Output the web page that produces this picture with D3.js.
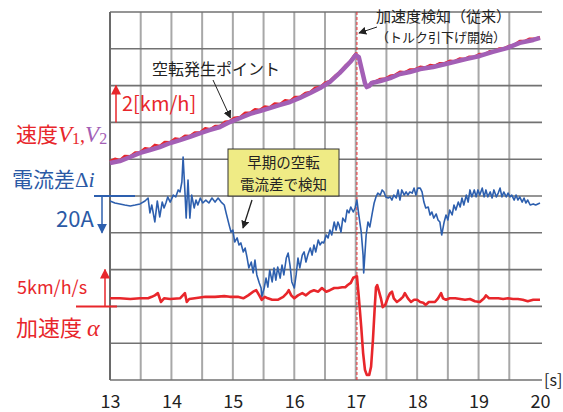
<!DOCTYPE html>
<html>
<head>
<meta charset="utf-8">
<script src="https://cdn.jsdelivr.net/npm/d3@7"></script>
<style>
  html, body { margin: 0; padding: 0; background: #fff; }
  svg { display: block; }
  text { font-family: "Noto Sans CJK JP", "Noto Sans", sans-serif; }
</style>
</head>
<body>
<svg id="chart" width="563" height="412"></svg>
<script>
// ---- time axis ----
const xTicks = [13, 14, 15, 16, 17, 18, 19, 20];

// ---- wheel speeds V1 (red) and V2 (purple), km/h ----
const timeV2  = [13.00,13.16,13.33,13.49,13.65,13.81,13.98,14.14,14.30,14.47,14.63,14.79,14.95,15.12,15.28,15.44,15.60,15.77,15.93,16.09,16.26,16.42,16.58,16.74,16.91,17.00,17.05,17.10,17.15,17.18,17.22,17.26,17.40,17.56,17.72,17.88,18.05,18.26,18.53,18.81,19.02,19.23,19.46,19.67,19.89,20.00];
const speedV2 = [11.79,11.90,12.12,12.34,12.50,12.66,12.88,13.04,13.21,13.42,13.59,13.75,14.02,14.24,14.46,14.62,14.78,14.95,15.11,15.33,15.60,15.87,16.20,16.69,17.28,17.66,17.55,16.85,16.14,15.92,15.98,16.14,16.25,16.41,16.63,16.74,16.90,17.01,17.23,17.45,17.61,17.83,18.04,18.32,18.48,18.59];

const timeV1  = [13.00,13.08,13.16,13.24,13.33,13.41,13.49,13.57,13.65,13.73,13.81,13.89,13.98,14.06,14.14,14.22,14.30,14.38,14.47,14.55,14.63,14.71,14.79,14.87,14.95,15.03,15.12,15.20,15.28,15.36,15.44,15.52,15.60,15.68,15.77,15.85,15.93,16.01,16.09,16.18,16.26,16.34,16.42,16.50,16.58,16.66,16.74,16.83,16.91,16.97,17.00,17.03,17.06,17.10,17.15,17.18,17.22,17.26,17.33,17.40,17.48,17.56,17.64,17.72,17.80,17.88,17.96,18.05,18.13,18.21,18.29,18.37,18.45,18.53,18.61,18.69,18.77,18.85,18.93,19.02,19.10,19.18,19.26,19.34,19.42,19.50,19.58,19.67,19.75,19.83,19.91,20.00];
const speedV1 = [11.90,12.02,11.95,12.18,12.16,12.36,12.38,12.60,12.55,12.78,12.72,12.93,12.92,13.13,13.08,13.28,13.26,13.45,13.46,13.68,13.63,13.80,13.80,14.03,14.07,14.26,14.30,14.53,14.52,14.72,14.68,14.86,14.83,15.03,15.00,15.20,15.16,15.38,15.38,15.60,15.65,15.88,15.92,16.16,16.25,16.52,16.73,17.08,17.32,17.62,17.74,17.62,17.45,16.90,16.18,15.96,16.04,16.18,16.24,16.36,16.38,16.53,16.58,16.75,16.72,16.87,16.88,17.02,16.98,17.12,17.08,17.22,17.22,17.35,17.33,17.47,17.44,17.57,17.56,17.72,17.70,17.87,17.88,18.02,18.03,18.16,18.22,18.42,18.42,18.55,18.54,18.63];

// ---- motor current difference Δi, A (positive downward) ----
const timeI = [13.00,13.08,13.16,13.24,13.33,13.41,13.49,13.57,13.62,13.65,13.68,13.73,13.77,13.81,13.85,13.88,13.91,13.94,13.98,14.03,14.07,14.11,14.14,14.17,14.19,14.22,14.24,14.27,14.30,14.33,14.37,14.40,14.43,14.47,14.51,14.56,14.61,14.66,14.71,14.76,14.81,14.86,14.89,14.94,14.97,15.00,15.03,15.07,15.10,15.13,15.17,15.20,15.23,15.26,15.30,15.33,15.36,15.39,15.43,15.46,15.47,15.51,15.54,15.57,15.60,15.64,15.67,15.70,15.73,15.77,15.80,15.83,15.87,15.90,15.93,15.96,16.00,16.03,16.06,16.09,16.13,16.16,16.19,16.22,16.26,16.29,16.32,16.35,16.39,16.42,16.45,16.48,16.52,16.55,16.58,16.61,16.65,16.68,16.71,16.73,16.76,16.79,16.83,16.86,16.89,16.92,16.96,16.99,17.02,17.05,17.09,17.12,17.13,17.17,17.20,17.23,17.27,17.30,17.33,17.36,17.40,17.43,17.46,17.49,17.53,17.56,17.59,17.62,17.66,17.69,17.72,17.75,17.79,17.82,17.85,17.88,17.92,17.95,17.98,18.01,18.05,18.08,18.11,18.14,18.18,18.21,18.24,18.27,18.31,18.34,18.37,18.40,18.44,18.47,18.50,18.53,18.57,18.60,18.63,18.67,18.70,18.73,18.76,18.80,18.83,18.86,18.89,18.93,18.96,18.99,19.02,19.06,19.09,19.12,19.15,19.19,19.22,19.25,19.29,19.32,19.35,19.38,19.41,19.45,19.48,19.51,19.54,19.58,19.61,19.64,19.67,19.71,19.74,19.77,19.80,19.84,19.89,19.93,20.00];
const deltaI = [2.7,3.8,4.3,4.9,5.4,4.9,4.3,2.7,1.1,9.2,4.9,14.1,2.7,11.4,3.3,6.5,3.8,0.5,3.3,-0.5,0.5,-3.3,-2.2,-7.6,-21.2,-2.2,12.0,-8.7,12.0,-0.5,6.5,2.2,4.9,1.1,3.8,2.2,3.8,1.1,3.3,1.1,3.3,4.9,9.2,15.8,19.6,18.5,25.0,22.8,26.6,25.5,30.4,28.3,33.2,39.1,35.9,41.8,34.8,42.9,47.3,50.0,54.9,50.0,44.6,49.5,40.2,46.7,39.1,45.7,38.6,44.6,37.5,42.9,33.7,31.0,37.5,46.7,50.0,42.9,33.7,39.1,32.1,30.4,35.9,32.1,28.3,32.1,26.6,30.4,23.9,26.6,25.0,25.5,21.2,22.8,18.5,21.2,14.1,18.5,14.1,15.8,19.6,12.0,14.1,7.6,9.2,6.0,8.7,6.5,2.2,10.3,19.6,32.1,41.8,21.2,14.1,16.8,9.2,3.8,0.5,-1.6,-0.5,-3.3,-2.2,0.5,1.1,0.5,2.2,-0.5,1.1,-3.3,2.2,-3.3,-0.5,-2.2,-0.5,-2.2,-1.6,-4.3,-0.5,-4.3,-4.3,-2.2,3.3,6.5,6.0,10.3,8.7,12.0,9.8,13.0,14.1,21.2,14.1,10.3,13.0,7.6,10.3,4.9,7.6,3.3,6.0,1.1,4.9,-0.5,3.3,-3.3,0.5,-3.3,0.5,-3.3,-0.5,-4.3,0.5,-3.3,0.5,-2.2,1.1,-3.3,0.5,-1.6,-4.3,0.5,-2.2,0.5,-1.6,0.5,-0.5,2.2,-0.5,2.2,0.5,3.3,1.1,3.8,2.2,4.9,4.3,4.9,3.8];

// ---- acceleration α, km/h/s ----
const timeA = [13.00,13.16,13.33,13.49,13.62,13.68,13.73,13.78,13.83,13.88,13.98,14.14,14.22,14.25,14.29,14.38,14.55,14.71,14.86,14.95,15.08,15.17,15.25,15.33,15.38,15.43,15.47,15.52,15.57,15.64,15.73,15.82,15.88,15.91,15.95,16.00,16.06,16.13,16.19,16.26,16.32,16.39,16.45,16.52,16.58,16.65,16.71,16.78,16.83,16.87,16.92,16.96,16.99,17.02,17.05,17.09,17.12,17.15,17.18,17.22,17.25,17.28,17.31,17.33,17.35,17.38,17.41,17.44,17.48,17.53,17.56,17.59,17.62,17.67,17.72,17.77,17.80,17.85,17.90,17.95,18.00,18.05,18.10,18.14,18.19,18.24,18.29,18.34,18.39,18.42,18.47,18.53,18.62,18.70,18.78,18.86,18.94,19.02,19.09,19.12,19.17,19.23,19.32,19.40,19.48,19.56,19.64,19.72,19.80,19.89,20.00];
const accel = [1.1,1.1,1.0,1.1,1.1,1.3,1.5,1.8,0.6,1.1,1.0,1.1,1.8,0.6,1.0,1.1,1.3,1.3,1.4,1.3,1.3,1.1,1.5,2.0,2.2,1.5,0.9,1.3,1.1,0.9,0.9,1.3,1.8,2.2,1.5,1.1,1.5,1.8,1.5,2.0,2.2,2.0,2.5,2.0,2.2,2.5,2.5,2.6,2.6,2.9,3.2,3.9,4.0,4.1,1.3,-2.8,-6.3,-8.6,-9.3,-9.3,-8.2,-4.6,-0.1,2.6,2.9,2.0,1.1,-0.1,0.2,1.3,1.8,2.0,1.1,0.6,0.9,1.3,1.8,1.1,0.6,0.9,0.9,0.6,0.5,0.2,0.6,0.6,0.6,1.1,1.8,1.1,0.9,1.1,1.1,1.0,0.9,1.0,0.7,0.6,1.1,1.5,1.1,1.1,1.1,1.0,1.1,1.0,1.0,0.9,0.7,0.9,0.9];

// ---- colours ----
const RED = "#e8262b", PURPLE = "#a35fb5", BLUE = "#2d5fae", LABEL_BLUE = "#2b5aa5";

const svg = d3.select("#chart");
const plotLeft = 110, plotRight = 540, plotTop = 12, plotBottom = 380;

const x = d3.scaleLinear().domain([13, 20]).range([plotLeft, plotRight]);
// ten grid divisions up the plot
const grid = d3.scaleLinear().domain([0, 10]).range([plotBottom, plotTop]);
// each trace on its own scale: 2 km/h, 20 A and 5 km/h/s per division
const ySpeed = d3.scaleLinear().domain([0, 20]).range([grid(0), grid(10)]);
const yCurrent = d3.scaleLinear().domain([0, 20]).range([grid(5), grid(4)]);
const yAccel = d3.scaleLinear().domain([0, 5]).range([grid(2), grid(3)]);

// arrowhead markers
const defs = svg.append("defs");
function marker(id, color, size) {
  defs.append("marker").attr("id", id)
    .attr("viewBox", "0 0 10 10").attr("refX", 9).attr("refY", 5)
    .attr("markerWidth", size).attr("markerHeight", size)
    .attr("markerUnits", "userSpaceOnUse").attr("orient", "auto")
    .append("path").attr("d", "M0,0 L10,5 L0,10 Z").attr("fill", color);
}
marker("ahRed", RED, 10);
marker("ahBlue", BLUE, 10);
marker("ahBlack", "#222", 8);

// ---- grid ----
const gGrid = svg.append("g");
const halfSteps = d3.range(13.5, 20, 0.5);
gGrid.selectAll("line.v").data(halfSteps).join("line").attr("class", "v")
  .attr("x1", d => x(d)).attr("x2", d => x(d))
  .attr("y1", plotTop).attr("y2", plotBottom)
  .attr("stroke", "#a8a8a8").attr("stroke-width", 2);
gGrid.selectAll("line.h").data(d3.range(0, 11)).join("line").attr("class", "h")
  .attr("x1", plotLeft).attr("x2", plotRight + 2)
  .attr("y1", d => grid(d)).attr("y2", d => grid(d))
  .attr("stroke", "#727272").attr("stroke-width", 1.6);
gGrid.append("line").attr("x1", plotLeft).attr("x2", plotLeft).attr("y1", plotTop).attr("y2", plotBottom)
  .attr("stroke", "#6a6a6a").attr("stroke-width", 2);

// ---- time axis labels ----
const xAxis = d3.axisBottom(x).tickValues(xTicks).tickSize(0).tickPadding(15).tickFormat(d3.format("d"));
const gx = svg.append("g").attr("transform", `translate(0,${plotBottom})`).call(xAxis);
gx.select(".domain").remove();
gx.selectAll("text").attr("font-size", 18).attr("fill", "#222")
  .attr("font-family", "'Noto Sans CJK JP', sans-serif");
svg.append("text").attr("x", 544).attr("y", 386).attr("font-size", 16).attr("fill", "#222").text("[s]");

// ---- detection marker (dashed) ----
svg.append("line").attr("x1", x(17.02)).attr("x2", x(17.02)).attr("y1", plotTop).attr("y2", plotBottom)
  .attr("stroke", RED).attr("stroke-width", 1).attr("stroke-dasharray", "3,2");

// ---- traces ----
const zip = (t, v) => t.map((d, i) => [d, v[i]]);
const line = yScale => d3.line().x(d => x(d[0])).y(d => yScale(d[1]));

svg.append("path").datum(zip(timeV1, speedV1)).attr("d", line(ySpeed))
  .attr("fill", "none").attr("stroke", RED).attr("stroke-width", 2.5).attr("stroke-linejoin", "round");
svg.append("path").datum(zip(timeV2, speedV2)).attr("d", line(ySpeed))
  .attr("fill", "none").attr("stroke", PURPLE).attr("stroke-width", 4.5).attr("stroke-linejoin", "round");

svg.append("path").datum(zip(timeI, deltaI)).attr("d", line(yCurrent))
  .attr("fill", "none").attr("stroke", BLUE).attr("stroke-width", 1.6).attr("stroke-linejoin", "round");

svg.append("path").datum(zip(timeA, accel)).attr("d", line(yAccel))
  .attr("fill", "none").attr("stroke", RED).attr("stroke-width", 2.6).attr("stroke-linejoin", "round");

// ---- left-hand scale indicators ----
// speed: 2 km/h per division
svg.append("line").attr("x1", 116).attr("x2", 116).attr("y1", grid(7)).attr("y2", grid(8))
  .attr("stroke", RED).attr("stroke-width", 1.5).attr("marker-end", "url(#ahRed)");
svg.append("text").attr("x", 122).attr("y", 111).attr("font-size", 20).attr("fill", RED).text("2[km/h]");

// current difference: 20 A per division, downward
svg.append("line").attr("x1", 94).attr("x2", 135).attr("y1", yCurrent(0)).attr("y2", yCurrent(0))
  .attr("stroke", BLUE).attr("stroke-width", 2);
svg.append("line").attr("x1", 102).attr("x2", 102).attr("y1", yCurrent(0)).attr("y2", yCurrent(20))
  .attr("stroke", BLUE).attr("stroke-width", 1.5).attr("marker-end", "url(#ahBlue)");
svg.append("text").attr("x", 56).attr("y", 227).attr("font-size", 22).attr("fill", LABEL_BLUE).text("20A");

// acceleration: 5 km/h/s per division
svg.append("line").attr("x1", 76).attr("x2", 117).attr("y1", yAccel(0)).attr("y2", yAccel(0))
  .attr("stroke", RED).attr("stroke-width", 2);
svg.append("line").attr("x1", 105).attr("x2", 105).attr("y1", yAccel(0)).attr("y2", yAccel(5))
  .attr("stroke", RED).attr("stroke-width", 1.5).attr("marker-end", "url(#ahRed)");
svg.append("text").attr("x", 17).attr("y", 294).attr("font-size", 18).attr("fill", RED).text("5km/h/s");

// ---- series labels ----
const serif = "'Liberation Serif', serif";
const tV = svg.append("text").attr("x", 16).attr("y", 142).attr("font-size", 21).attr("fill", RED);
tV.append("tspan").text("速度");
tV.append("tspan").attr("font-family", serif).attr("font-style", "italic").attr("font-size", 23).text("V");
tV.append("tspan").attr("font-family", serif).attr("font-size", 16).attr("dy", 2).text("1");
tV.append("tspan").attr("font-family", serif).attr("font-size", 20).attr("dy", -2).text(",");
tV.append("tspan").attr("font-family", serif).attr("font-style", "italic").attr("font-size", 23).attr("fill", PURPLE).text("V");
tV.append("tspan").attr("font-family", serif).attr("font-size", 16).attr("dy", 2).attr("fill", PURPLE).text("2");

const tI = svg.append("text").attr("x", 12).attr("y", 187).attr("font-size", 21).attr("fill", LABEL_BLUE);
tI.append("tspan").text("電流差");
tI.append("tspan").attr("font-family", serif).attr("font-size", 21).text("Δ");
tI.append("tspan").attr("font-family", serif).attr("font-style", "italic").attr("font-size", 22).text("i");

const tA = svg.append("text").attr("x", 16).attr("y", 336).attr("font-size", 22).attr("fill", RED);
tA.append("tspan").text("加速度 ");
tA.append("tspan").attr("font-family", serif).attr("font-style", "italic").attr("font-size", 24).text("α");

// ---- annotations ----
svg.append("text").attr("x", 152).attr("y", 75).attr("font-size", 16).attr("fill", "#222").text("空転発生ポイント");
svg.append("line").attr("x1", 213).attr("y1", 80).attr("x2", x(14.96)).attr("y2", ySpeed(14.25))
  .attr("stroke", "#222").attr("stroke-width", 1).attr("marker-end", "url(#ahBlack)");

svg.append("rect").attr("x", 228).attr("y", 149).attr("width", 111).attr("height", 47)
  .attr("fill", "#efeb85").attr("stroke", "#333").attr("stroke-width", 1);
svg.append("text").attr("x", 283.5).attr("y", 168).attr("text-anchor", "middle").attr("font-size", 14.5).attr("fill", "#222").text("早期の空転");
svg.append("text").attr("x", 283.5).attr("y", 189.5).attr("text-anchor", "middle").attr("font-size", 14.5).attr("fill", "#222").text("電流差で検知");
svg.append("line").attr("x1", 252).attr("y1", 200).attr("x2", 243).attr("y2", 228)
  .attr("stroke", "#222").attr("stroke-width", 1.3).attr("marker-end", "url(#ahBlack)");

svg.append("text").attr("x", 376).attr("y", 22).attr("font-size", 15).attr("fill", "#222").text("加速度検知（従来）");
svg.append("text").attr("x", 376).attr("y", 42).attr("font-size", 13).attr("fill", "#222").text("（トルク引下げ開始）");
svg.append("line").attr("x1", 377).attr("y1", 27).attr("x2", 359).attr("y2", 33)
  .attr("stroke", "#222").attr("stroke-width", 1).attr("marker-end", "url(#ahBlack)");
</script>
</body>
</html>
